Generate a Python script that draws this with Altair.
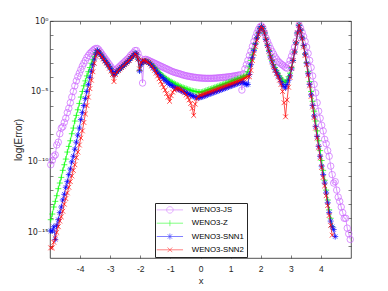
import altair as alt
import pandas as pd

SERIES = ["WENO3-JS", "WENO3-Z", "WENO3-SNN1", "WENO3-SNN2"]
COLORS = ["#cc66ff", "#00ff00", "#0000ff", "#ff0000"]

# grid (cell centres) on [-5, 5]
X_START = -4.975
X_STEP = 0.05
N_PTS = 200

# log10(error), 10 values per 0.5 in x; None = not drawn
LOG_JS = [
    -10.2, -9.9, -9.6, -9.5, -8.8, -8.6, -8.0, -7.6, -7.5, -7.2,
    -6.9, -6.5, -6.2, -5.8, -5.4, -5.0, -4.6, -4.25, -3.95, -3.7,
    -3.45, -3.2, -3.0, -2.8, -2.6, -2.45, -2.3, -2.2, -2.1, -2.0,
    -1.95, -1.95, -2.05, -2.2, -2.35, -2.5, -2.65, -2.8, -2.95, -3.1,
    -3.25, -3.4, -3.65, -3.5, -3.4, -3.3, -3.2, -3.1, -3.0, -2.9,
    -2.8, -2.7, -2.6, -2.45, -2.35, -2.25, -2.1, -2.1, -2.3, -2.6,
    -2.95, -4.4, -2.75, -2.72, -2.75, -2.8, -2.85, -2.9, -2.95, -3.0,
    -3.05, -3.1, -3.15, -3.2, -3.25, -3.3, -3.35, -3.4, -3.45, -3.5,
    -3.55, -3.6, -3.63, -3.67, -3.7, -3.73, -3.76, -3.8, -3.83, -3.86,
    -3.89, -3.91, -3.93, -3.95, -3.97, -3.99, -4.0, -4.02, -4.03, -4.04,
    -4.05, -4.06, -4.06, -4.07, -4.07, -4.07, -4.07, -4.07, -4.06, -4.06,
    -4.05, -4.04, -4.03, -4.02, -4.01, -4.0, -3.99, -3.98, -3.96, -3.95,
    -3.94, -3.92, -3.9, -3.88, -3.86, -3.84, -3.82, -4.9, -3.75, -3.4,
    -3.1, -2.8, -2.45, -2.15, -1.8, -1.45, -1.15, -0.85, -0.6, -0.42,
    -0.35, -0.5, -0.85, -1.2, -1.45, -1.7, -1.95, -2.15, -2.35, -2.55,
    -2.7, -2.85, -2.95, -3.05, -3.12, -3.2, -3.3, -3.35, -3.1, -2.8,
    -2.5, -2.2, -1.85, -1.45, -0.9, -0.3, -0.5, -0.8, -1.1, -1.45,
    -1.85, -2.3, -2.8, -3.3, -3.9, -4.5, -5.1, -5.8, -6.4, -6.9,
    -7.4, -7.8, -8.4, -8.7, -9.2, -9.6, -10.3, -10.9, -11.5, -11.4,
    -12.0, -12.5, -12.8, -13.2, -13.6, -14.0, -14.0, -14.7, -15.1, -15.5,
]
LOG_Z = [
    -14.1, -13.7, -13.2, -12.8, -12.4, -11.9, -11.5, -11.1, -10.6, -10.2,
    -9.8, -9.3, -8.9, -8.5, -8.0, -7.6, -7.1, -6.7, -6.3, -5.85,
    -5.4, -5.0, -4.6, -4.25, -3.9, -3.6, -3.3, -3.0, -2.75, -2.5,
    -2.25, -2.1, -2.2, -2.35, -2.5, -2.65, -2.8, -2.95, -3.1, -3.25,
    -3.4, -3.6, -3.8, -3.7, -3.6, -3.5, -3.4, -3.3, -3.2, -3.1,
    -3.0, -2.9, -2.8, -2.65, -2.55, -2.45, -2.3, -2.35, -2.7, -3.5,
    -3.1, -2.9, -2.85, -2.85, -2.88, -2.93, -3.0, -3.1, -3.2, -3.3,
    -3.42, -3.55, -3.65, -3.75, -3.85, -3.95, -4.03, -4.1, -4.17, -4.24,
    -4.3, -4.36, -4.42, -4.48, -4.53, -4.58, -4.63, -4.68, -4.72, -4.76,
    -4.8, -4.84, -4.88, -4.92, -4.95, -4.98, -5.0, -5.02, -5.04, -5.05,
    -5.05, -5.02, -4.98, -4.94, -4.9, -4.86, -4.83, -4.79, -4.75, -4.71,
    -4.67, -4.63, -4.59, -4.55, -4.51, -4.47, -4.43, -4.39, -4.35, -4.31,
    -4.27, -4.23, -4.19, -4.15, -4.11, -4.07, -4.04, -4.0, -3.95, -3.9,
    -3.85, -3.6, -3.2, -2.8, -2.4, -2.0, -1.6, -1.2, -0.85, -0.55,
    -0.4, -0.55, -0.85, -1.3, -1.7, -2.1, -2.45, -2.8, -3.1, -3.3,
    -3.5, -3.7, -3.9, -4.05, -4.2, -4.3, -4.35, -4.2, -3.95, -3.7,
    -3.3, -2.8, -2.2, -1.55, -0.85, -0.3, -0.65, -1.2, -1.75, -2.35,
    -2.95, -3.6, -4.3, -5.0, -5.7, -6.4, -7.1, -7.8, -8.5, -9.2,
    -9.9, -10.6, -11.3, -12.0, -12.7, -13.4, -14.0, -14.6, None, None,
    None, None, None, None, None, None, None, None, None, None,
]
LOG_SNN1 = [
    -14.9, -14.9, -14.6, -15.5, -14.5, -14.1, -13.6, -13.2, -12.7, -12.3,
    -11.8, -11.4, -10.9, -10.5, -10.0, -9.6, -9.1, -8.6, -8.1, -7.6,
    -7.0, -6.5, -6.0, -5.5, -5.0, -4.5, -4.0, -3.55, -3.1, -2.7,
    -2.35, -2.1, -2.2, -2.35, -2.5, -2.65, -2.8, -2.95, -3.1, -3.25,
    -3.4, -3.6, -3.85, -3.7, -3.6, -3.5, -3.4, -3.3, -3.2, -3.1,
    -3.0, -2.9, -2.8, -2.65, -2.55, -2.45, -2.3, -2.35, -2.7, -3.55,
    -3.1, -2.9, -2.85, -2.85, -2.9, -2.95, -3.05, -3.15, -3.3, -3.4,
    -3.55, -3.7, -3.8, -3.9, -4.0, -4.1, -4.2, -4.3, -4.4, -4.5,
    -4.55, -4.6, -4.7, -4.75, -4.8, -4.85, -4.9, -4.95, -5.0, -5.05,
    -5.1, -5.15, -5.2, -5.25, -5.3, -5.35, -5.4, -5.42, -5.45, -5.42,
    -5.4, -5.36, -5.32, -5.28, -5.24, -5.2, -5.16, -5.12, -5.08, -5.04,
    -5.0, -4.96, -4.92, -4.88, -4.84, -4.8, -4.76, -4.72, -4.68, -4.64,
    -4.6, -4.56, -4.52, -4.48, -4.44, -4.4, -4.36, -4.3, -4.35, -4.45,
    -4.5, -4.5, -3.8, -3.1, -2.6, -2.1, -1.65, -1.2, -0.85, -0.55,
    -0.4, -0.55, -0.85, -1.3, -1.75, -2.15, -2.55, -2.9, -3.2, -3.45,
    -3.65, -3.85, -4.05, -4.3, -4.5, -4.65, -4.75, -4.5, -4.2, -3.9,
    -3.4, -2.8, -2.2, -1.55, -0.85, -0.3, -0.65, -1.2, -1.75, -2.35,
    -3.0, -3.75, -4.5, -5.25, -6.0, -6.75, -7.5, -8.2, -8.9, -9.6,
    -10.3, -10.9, -11.5, -12.2, -12.9, -13.6, -14.2, -14.6, -14.8, -15.3,
    None, None, None, None, None, None, None, None, None, None,
]
LOG_SNN2 = [
    -16.1, -16.1, -15.7, -15.4, -15.0, -14.6, -14.2, -13.9, -13.5, -13.0,
    -12.6, -12.2, -11.8, -11.4, -11.0, -10.6, -10.2, -9.7, -9.3, -8.8,
    -8.3, -7.8, -7.2, -6.6, -6.0, -5.4, -4.8, -4.2, -3.6, -3.0,
    -2.5, -2.15, -2.25, -2.4, -2.55, -2.7, -2.85, -3.0, -3.15, -3.35,
    -3.55, -3.8, -4.3, -3.8, -3.6, -3.5, -3.4, -3.3, -3.2, -3.1,
    -3.0, -2.9, -2.8, -2.65, -2.55, -2.45, -2.35, -2.4, -2.7, -3.4,
    -2.95, -2.8, -2.8, -2.85, -2.9, -2.95, -3.05, -3.2, -3.35, -3.5,
    -3.7, -3.9, -4.1, -4.3, -4.5, -4.7, -4.9, -5.15, -5.4, -5.7,
    -5.3, -5.05, -4.9, -4.8, -4.8, -4.8, -4.85, -4.9, -5.0, -5.1,
    -5.25, -5.4, -5.6, -5.85, -6.2, -6.7, -5.9, -5.5, -5.35, -5.25,
    -5.25, -5.21, -5.17, -5.13, -5.09, -5.05, -5.01, -4.97, -4.93, -4.89,
    -4.85, -4.81, -4.77, -4.73, -4.69, -4.65, -4.61, -4.57, -4.53, -4.49,
    -4.45, -4.41, -4.37, -4.33, -4.29, -4.25, -4.21, -4.15, -4.1, -4.05,
    -4.0, -3.95, -3.95, -3.5, -2.8, -2.3, -1.8, -1.35, -0.95, -0.6,
    -0.4, -0.55, -0.85, -1.3, -1.75, -2.15, -2.55, -2.9, -3.25, -3.5,
    -3.75, -3.95, -4.2, -4.5, -5.0, -5.8, -6.8, -5.6, -4.7, -4.0,
    -3.35, -2.8, -2.2, -1.55, -0.85, -0.3, -0.7, -1.25, -1.85, -2.45,
    -3.1, -3.85, -4.6, -5.35, -6.1, -6.85, -7.6, -8.3, -9.0, -9.7,
    -10.4, -11.1, -11.7, -12.4, -13.1, -13.8, -14.5, -15.2, None, None,
    None, None, None, None, None, None, None, None, None, None,
]

XTICKS = [-4, -3, -2, -1, 0, 1, 2, 3, 4]
YTICK_EXP = list(range(0, -17, -1))
YLABEL_EXP = [0, -5, -10, -15]
YLABEL_TEXT = ["10\u2070", "10\u207b\u2075", "10\u207b\u00b9\u2070", "10\u207b\u00b9\u2075"]
Y_MIN_EXP = -16.82

MARKERS = [
    "circle",
    "M-1,0L1,0M0,-1L0,1",
    "M-1,0L1,0M0,-1L0,1M-0.7,-0.7L0.7,0.7M-0.7,0.7L0.7,-0.7",
    "M-0.8,-0.8L0.8,0.8M-0.8,0.8L0.8,-0.8",
]
MARKER_SIZES = [42, 36, 36, 36]
LEGEND_SYMBOLS = [
    "M-4.8,0L4.8,0M-1.2,0A1.2,1.2,0,1,1,1.2,0A1.2,1.2,0,1,1,-1.2,0",
    "M-4.8,0L4.8,0M0,-1.1L0,1.1",
    "M-4.8,0L4.8,0M0,-1.1L0,1.1M-0.8,-0.8L0.8,0.8M-0.8,0.8L0.8,-0.8",
    "M-4.8,0L4.8,0M-0.85,-0.85L0.85,0.85M-0.85,0.85L0.85,-0.85",
]

FONT = "Liberation Sans"
AX = "#262626"

xs = [round(X_START + X_STEP * i, 3) for i in range(N_PTS)]
frames = []
for name, arr in zip(SERIES, [LOG_JS, LOG_Z, LOG_SNN1, LOG_SNN2]):
    pts = [(x, 10.0 ** v) for x, v in zip(xs, arr) if v is not None]
    frames.append(pd.DataFrame({"x": [p[0] for p in pts],
                                "err": [p[1] for p in pts],
                                "series": name}))
df_all = pd.concat(frames, ignore_index=True)
df_anchor = pd.DataFrame({"x": [0.0], "err": [1e-5]})

x_scale = alt.Scale(domain=[-5, 5], nice=False, zero=False)
y_scale = alt.Scale(type="log", domain=[10 ** Y_MIN_EXP, 1], nice=False)

cond = "".join(
    f"round(log(datum.value)/LN10) == {e} ? '{t}' : " for e, t in zip(YLABEL_EXP, YLABEL_TEXT)
) + "''"

common_axis = dict(offset=-3, tickSize=3, tickColor=AX, tickWidth=0.6, domain=False,
                   grid=False, labelOverlap=False, labelFlush=False)

x_axis_main = alt.Axis(orient="bottom", values=XTICKS, labelExpr="datum.value + ''",
                       labelFont=FONT, labelFontSize=8.5, labelColor=AX, labelPadding=6,
                       title="x", titleFont=FONT, titleFontSize=9.5, titleFontWeight="normal",
                       titleColor=AX, titlePadding=3, **common_axis)
y_axis_main = alt.Axis(orient="left", values=[10.0 ** e for e in YTICK_EXP], labelExpr=cond,
                       labelFont="DejaVu Sans", labelFontSize=8, labelColor=AX, labelPadding=2,
                       title="log(Error)", titleFont=FONT, titleFontSize=10,
                       titleFontWeight="normal", titleColor=AX, titlePadding=4, **common_axis)
x_axis_top = alt.Axis(orient="top", values=XTICKS, labels=False, title=None, **common_axis)
y_axis_right = alt.Axis(orient="right", values=[10.0 ** e for e in YTICK_EXP], labels=False,
                        title=None, **common_axis)

axes_main = alt.Chart(df_anchor).mark_point(opacity=0).encode(
    x=alt.X("x:Q", scale=x_scale, axis=x_axis_main),
    y=alt.Y("err:Q", scale=y_scale, axis=y_axis_main),
)
axes_other = alt.Chart(df_anchor).mark_point(opacity=0).encode(
    x=alt.X("x:Q", scale=x_scale, axis=x_axis_top),
    y=alt.Y("err:Q", scale=y_scale, axis=y_axis_right),
)

layers = [axes_main, axes_other]
for name, col, shp, sz in zip(SERIES, COLORS, MARKERS, MARKER_SIZES):
    base = alt.Chart(df_all).transform_filter(alt.datum.series == name)
    layers.append(base.mark_line(color=col, strokeWidth=0.7).encode(
        x=alt.X("x:Q", scale=x_scale, axis=None),
        y=alt.Y("err:Q", scale=y_scale, axis=None),
    ))
    layers.append(base.mark_point(shape=shp, size=sz, filled=False, color=col,
                                  strokeWidth=0.7, opacity=1).encode(
        x=alt.X("x:Q", scale=x_scale, axis=None),
        y=alt.Y("err:Q", scale=y_scale, axis=None),
    ))

leg = alt.Legend(orient="none", legendX=105, legendY=182, title=None,
                 fillColor="white", strokeColor=AX, padding=3,
                 symbolSize=30, symbolStrokeWidth=0.7, symbolOffset=8, labelOffset=18,
                 labelFont=FONT, labelFontSize=7.8, labelColor="black", rowPadding=3.3,
                 labelLimit=200)
legend_layer = alt.Chart(df_all).transform_filter("false").mark_point(
    filled=False, strokeWidth=0.7).encode(
    x=alt.X("x:Q", scale=x_scale, axis=None),
    y=alt.Y("err:Q", scale=y_scale, axis=None),
    color=alt.Color("series:N", scale=alt.Scale(domain=SERIES, range=COLORS), legend=leg),
    shape=alt.Shape("series:N", scale=alt.Scale(domain=SERIES, range=LEGEND_SYMBOLS), legend=leg),
)
layers.append(legend_layer)

chart = alt.layer(*layers).resolve_axis(x="independent", y="independent").properties(
    width=301, height=237,
    autosize=alt.AutoSizeParams(type="none"),
    padding={"left": 42, "top": 13, "right": 29, "bottom": 32},
    background="white",
).configure_view(stroke=AX, strokeWidth=0.8)

chart.save("out.html", embed_options={"renderer": "svg", "actions": False})
